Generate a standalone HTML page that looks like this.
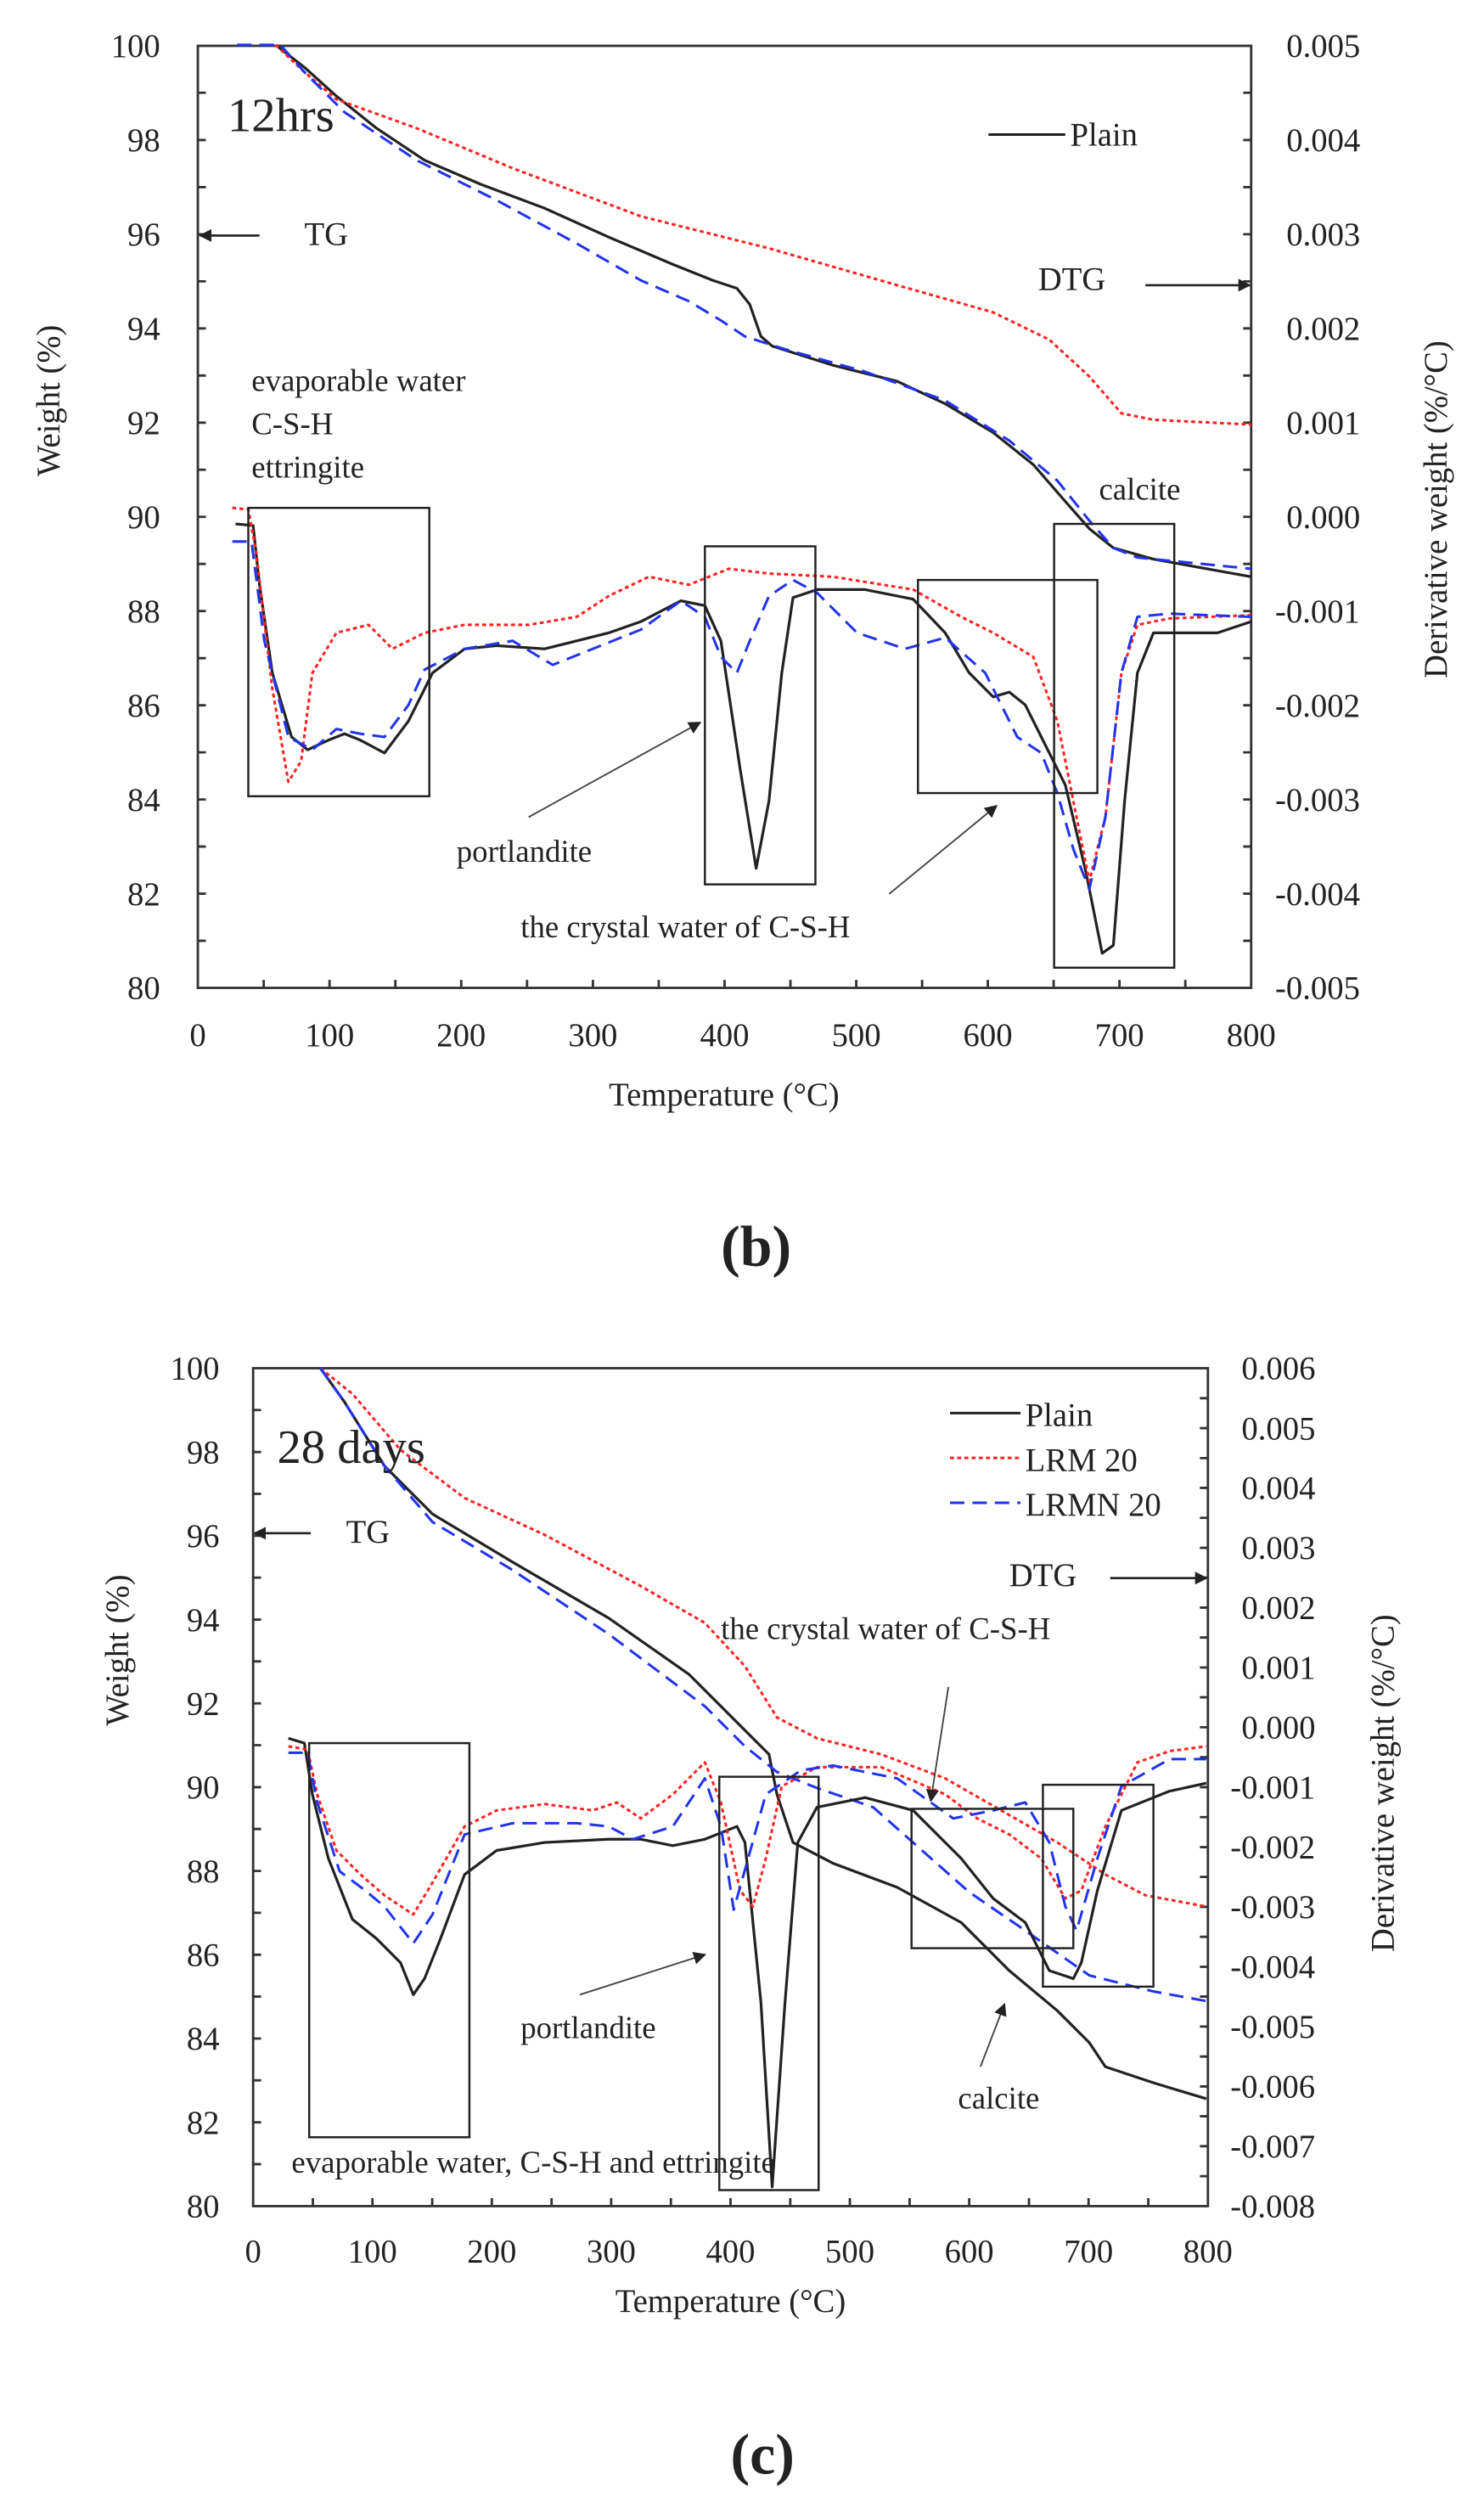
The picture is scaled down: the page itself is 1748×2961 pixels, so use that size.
<!DOCTYPE html>
<html><head><meta charset="utf-8"><style>
html,body{margin:0;padding:0;background:#fff;}
svg{display:block;}
text{font-family:"Liberation Serif",serif;fill:#222;}
.bk{fill:none;stroke:#222;stroke-width:1.7;stroke-linejoin:round;}
.rd{fill:none;stroke:#f22;stroke-width:1.6;stroke-dasharray:2.5,2;stroke-linejoin:round;}
.bl{fill:none;stroke:#2233ee;stroke-width:1.6;stroke-dasharray:9,5;stroke-linejoin:round;}
.ax{fill:none;stroke:#333;stroke-width:1.5;}
.bx{fill:none;stroke:#222;stroke-width:1.3;}
.tk{font-size:20.5px;}
.lab{font-size:19.5px;}
</style></head><body>
<svg width="1748" height="2961" viewBox="0 0 1748 2961" xmlns="http://www.w3.org/2000/svg">
<defs><marker id="ar" markerWidth="8" markerHeight="8" refX="7" refY="4" orient="auto" markerUnits="userSpaceOnUse"><path d="M0,0 L8,4 L0,8 z" fill="#222"/></marker></defs>
<g transform="scale(1.887)">
<!-- ===== Chart b ===== -->
<rect class="ax" x="123.5" y="28.6" width="657.5" height="588"/>
<path class="ax" d="M123.5,57.9h5M123.5,87.4h5M123.5,116.8h5M123.5,146.2h5M123.5,175.6h5M123.5,205h5M123.5,234.4h5M123.5,263.8h5M123.5,293.2h5M123.5,322.6h5M123.5,352h5M123.5,381.4h5M123.5,410.8h5M123.5,440.2h5M123.5,469.6h5M123.5,499h5M123.5,528.4h5M123.5,557.8h5M123.5,587.2h5
M781,57.9h-5M781,87.4h-5M781,116.8h-5M781,146.2h-5M781,175.6h-5M781,205h-5M781,234.4h-5M781,263.8h-5M781,293.2h-5M781,322.6h-5M781,352h-5M781,381.4h-5M781,410.8h-5M781,440.2h-5M781,469.6h-5M781,499h-5M781,528.4h-5M781,557.8h-5M781,587.2h-5
M164.6,616.6v-5M205.7,616.6v-5M246.8,616.6v-5M287.9,616.6v-5M329,616.6v-5M370.1,616.6v-5M411.2,616.6v-5M452.3,616.6v-5M493.4,616.6v-5M534.5,616.6v-5M575.6,616.6v-5M616.6,616.6v-5M657.7,616.6v-5M698.8,616.6v-5M739.9,616.6v-5"/>
<g class="tk" text-anchor="end">
<text x="100" y="35.6">100</text><text x="100" y="94.4">98</text><text x="100" y="153.2">96</text><text x="100" y="212">94</text><text x="100" y="270.8">92</text><text x="100" y="329.6">90</text><text x="100" y="388.4">88</text><text x="100" y="447.2">86</text><text x="100" y="506">84</text><text x="100" y="564.8">82</text><text x="100" y="623.6">80</text>
</g>
<g class="tk" text-anchor="start">
<text x="803" y="35.6">0.005</text><text x="803" y="94.4">0.004</text><text x="803" y="153.2">0.003</text><text x="803" y="212">0.002</text><text x="803" y="270.8">0.001</text><text x="803" y="329.6">0.000</text><text x="796" y="388.4">-0.001</text><text x="796" y="447.2">-0.002</text><text x="796" y="506">-0.003</text><text x="796" y="564.8">-0.004</text><text x="796" y="623.6">-0.005</text>
</g>
<g class="tk" text-anchor="middle">
<text x="123.5" y="653">0</text><text x="205.7" y="653">100</text><text x="287.9" y="653">200</text><text x="370.1" y="653">300</text><text x="452.3" y="653">400</text><text x="534.5" y="653">500</text><text x="616.6" y="653">600</text><text x="698.8" y="653">700</text><text x="781" y="653">800</text>
</g>
<text x="452" y="690" text-anchor="middle" style="font-size:20.5px">Temperature (°C)</text>
<text transform="translate(37,250) rotate(-90)" text-anchor="middle" style="font-size:20.5px">Weight (%)</text>
<text transform="translate(903,318) rotate(-90)" text-anchor="middle" style="font-size:20.5px">Derivative weight (%/°C)</text>
<text x="472" y="790" text-anchor="middle" style="font-size:36px;font-weight:bold">(<tspan>b</tspan>)</text>

<polyline class="bk" points="172,28 190,42 210,60 235,80 265,100 300,115 340,130 380,148 420,165 445,175 460,180 468,190 475,210 482,216 520,228 560,238 590,252 620,270 645,290 665,313 680,330 695,342 720,349 781,360"/>
<polyline class="rd" points="172,28 190,45 210,62 260,80 320,105 400,135 480,155 560,178 620,195 655,212 680,235 700,258 720,262 781,265"/>
<polyline class="bl" points="148,28 175,28 190,45 215,70 260,100 310,125 360,152 400,175 430,188 450,200 465,210 490,218 540,232 590,250 630,275 660,300 680,325 695,342 710,348 781,355"/>
<polyline class="bk" points="147,327 158,328 162,365 170,420 182,460 192,468 205,462 215,458 225,462 240,470 255,450 270,420 290,405 310,403 340,405 360,400 380,395 400,388 425,375 440,378 450,400 462,480 472,542 480,500 488,420 495,373 510,368 540,368 570,374 590,395 605,420 620,435 630,432 640,440 650,460 665,490 678,545 688,595 695,590 702,500 710,420 720,395 740,395 760,395 781,388"/>
<polyline class="rd" points="145,317 155,318 160,345 170,430 180,488 188,475 195,420 210,395 230,390 245,405 265,395 290,390 330,390 360,385 380,372 405,360 430,365 455,355 480,358 520,360 570,368 600,385 620,395 645,410 660,450 670,500 680,550 690,510 700,420 710,390 730,386 781,384"/>
<polyline class="bl" points="145,338 157,338 165,400 180,460 195,468 210,455 225,458 240,460 255,440 265,418 290,405 320,400 345,415 370,405 400,393 425,375 440,385 450,410 460,420 468,400 480,372 495,362 510,370 535,395 565,405 590,398 615,420 635,460 650,470 660,495 670,530 680,555 690,510 700,420 710,385 730,383 781,385"/>
<rect class="bx" x="155" y="317" width="113" height="180"/>
<rect class="bx" x="440" y="341" width="69" height="211"/>
<rect class="bx" x="573" y="362" width="112" height="133"/>
<rect class="bx" x="658" y="327" width="75" height="277"/>

<text x="142" y="82" style="font-size:30px">12hrs</text>
<line x1="617" y1="84" x2="665" y2="84" stroke="#222" stroke-width="1.6"/>
<text x="668" y="91" style="font-size:20.5px">Plain</text>
<line x1="162" y1="147" x2="125" y2="147" stroke="#222" stroke-width="1.4" marker-end="url(#ar)"/>
<text x="190" y="153" style="font-size:20.5px">TG</text>
<text x="648" y="181" style="font-size:20.5px">DTG</text>
<line x1="715" y1="178" x2="780" y2="178" stroke="#222" stroke-width="1.4" marker-end="url(#ar)"/>
<text x="157" y="244" class="lab">evaporable water</text>
<text x="157" y="271" class="lab">C-S-H</text>
<text x="157" y="298" class="lab">ettringite</text>
<text x="686" y="312" class="lab">calcite</text>
<text x="285" y="538" class="lab">portlandite</text>
<line x1="330" y1="510" x2="437" y2="451" stroke="#444" stroke-width="1" marker-end="url(#ar)"/>
<text x="325" y="585" class="lab">the crystal water of C-S-H</text>
<line x1="555" y1="558" x2="622" y2="503" stroke="#444" stroke-width="1" marker-end="url(#ar)"/>

<!-- ===== Chart c ===== -->
<rect class="ax" x="158" y="854" width="596" height="523"/>
<path class="ax" d="M158,880.1h5M158,906.3h5M158,932.4h5M158,958.6h5M158,984.7h5M158,1010.9h5M158,1037h5M158,1063.2h5M158,1089.3h5M158,1115.5h5M158,1141.6h5M158,1167.8h5M158,1193.9h5M158,1220.1h5M158,1246.2h5M158,1272.4h5M158,1298.5h5M158,1324.7h5M158,1350.8h5
M754,872.7h-5M754,891.4h-5M754,910.1h-5M754,928.7h-5M754,947.4h-5M754,966.1h-5M754,984.7h-5M754,1003.4h-5M754,1022.1h-5M754,1040.8h-5M754,1059.4h-5M754,1078.1h-5M754,1096.8h-5M754,1115.5h-5M754,1134.2h-5M754,1152.9h-5M754,1171.5h-5M754,1190.2h-5M754,1208.9h-5M754,1227.6h-5M754,1246.2h-5M754,1264.9h-5M754,1283.6h-5M754,1302.3h-5M754,1320.9h-5M754,1339.6h-5M754,1358.3h-5
M195.3,1377v-5M232.5,1377v-5M269.8,1377v-5M307,1377v-5M344.3,1377v-5M381.5,1377v-5M418.8,1377v-5M456,1377v-5M493.3,1377v-5M530.5,1377v-5M567.8,1377v-5M605,1377v-5M642.3,1377v-5M679.5,1377v-5M716.8,1377v-5"/>
<g class="tk" text-anchor="end">
<text x="137" y="861">100</text><text x="137" y="913.3">98</text><text x="137" y="965.6">96</text><text x="137" y="1017.9">94</text><text x="137" y="1070.2">92</text><text x="137" y="1122.5">90</text><text x="137" y="1174.8">88</text><text x="137" y="1227.1">86</text><text x="137" y="1279.4">84</text><text x="137" y="1331.7">82</text><text x="137" y="1384">80</text>
</g>
<g class="tk" text-anchor="start">
<text x="775" y="861">0.006</text><text x="775" y="898.4">0.005</text><text x="775" y="935.7">0.004</text><text x="775" y="973.1">0.003</text><text x="775" y="1010.4">0.002</text><text x="775" y="1047.8">0.001</text><text x="775" y="1085.1">0.000</text><text x="768" y="1122.5">-0.001</text><text x="768" y="1159.9">-0.002</text><text x="768" y="1197.2">-0.003</text><text x="768" y="1234.6">-0.004</text><text x="768" y="1271.9">-0.005</text><text x="768" y="1309.3">-0.006</text><text x="768" y="1346.6">-0.007</text><text x="768" y="1384">-0.008</text>
</g>
<g class="tk" text-anchor="middle">
<text x="158" y="1412">0</text><text x="232.5" y="1412">100</text><text x="307" y="1412">200</text><text x="381.5" y="1412">300</text><text x="456" y="1412">400</text><text x="530.5" y="1412">500</text><text x="605" y="1412">600</text><text x="679.5" y="1412">700</text><text x="754" y="1412">800</text>
</g>
<text x="456" y="1443" text-anchor="middle" style="font-size:20.5px">Temperature (°C)</text>
<text transform="translate(80,1030) rotate(-90)" text-anchor="middle" style="font-size:20.5px">Weight (%)</text>
<text transform="translate(870,1113) rotate(-90)" text-anchor="middle" style="font-size:20.5px">Derivative weight (%/°C)</text>
<text x="476" y="1544" text-anchor="middle" style="font-size:36px;font-weight:bold">(c)</text>

<polyline class="bk" points="200,854 215,875 240,915 270,945 320,975 380,1010 430,1045 470,1085 480,1095 485,1120 495,1150 520,1163 560,1178 600,1200 630,1230 660,1255 680,1275 690,1290 720,1300 753,1310"/>
<polyline class="rd" points="200,854 220,870 250,905 290,935 340,958 400,990 440,1013 465,1040 485,1072 510,1085 550,1095 590,1110 625,1130 660,1150 690,1170 715,1183 753,1190"/>
<polyline class="bl" points="200,854 215,875 240,915 270,950 320,980 380,1020 440,1065 465,1090 485,1106 510,1116 545,1128 605,1181 640,1205 680,1233 720,1243 753,1249"/>
<polyline class="bk" points="180,1085 190,1088 195,1120 205,1160 220,1198 235,1210 250,1225 258,1245 265,1235 275,1210 290,1170 310,1155 340,1150 380,1148 400,1148 420,1152 440,1148 460,1140 465,1150 475,1250 482,1365 490,1250 498,1150 510,1128 540,1122 570,1130 600,1160 620,1185 640,1200 655,1230 670,1235 675,1225 685,1180 700,1130 730,1118 753,1113"/>
<polyline class="rd" points="180,1090 192,1092 198,1120 210,1155 225,1170 240,1183 258,1195 270,1175 290,1140 310,1130 340,1126 370,1130 385,1125 400,1135 420,1120 440,1100 450,1125 462,1180 470,1190 478,1160 488,1115 510,1103 550,1103 590,1120 610,1135 630,1145 650,1160 665,1185 675,1180 690,1140 710,1100 730,1093 753,1090"/>
<polyline class="bl" points="180,1094 192,1094 198,1125 212,1168 228,1180 240,1190 258,1213 270,1195 290,1145 320,1138 360,1138 380,1140 395,1148 420,1140 440,1110 450,1140 458,1192 467,1160 478,1120 500,1105 520,1102 560,1110 595,1135 620,1130 640,1125 655,1150 665,1190 672,1205 685,1160 700,1115 730,1098 753,1098"/>
<rect class="bx" x="193" y="1088" width="100" height="246"/>
<rect class="bx" x="449" y="1109" width="62" height="258"/>
<rect class="bx" x="569" y="1129" width="101" height="87"/>
<rect class="bx" x="651" y="1114" width="69" height="126"/>

<text x="173" y="913" style="font-size:30px">28 days</text>
<line x1="593" y1="882" x2="637" y2="882" stroke="#222" stroke-width="1.6"/>
<line x1="593" y1="910" x2="637" y2="910" stroke="#f22" stroke-width="1.6" stroke-dasharray="2.5,2"/>
<line x1="593" y1="938" x2="637" y2="938" stroke="#2233ee" stroke-width="1.6" stroke-dasharray="9,5"/>
<text x="640" y="890" style="font-size:20.5px">Plain</text>
<text x="640" y="918" style="font-size:20.5px">LRM 20</text>
<text x="640" y="946" style="font-size:20.5px">LRMN 20</text>
<line x1="194" y1="957" x2="159" y2="957" stroke="#222" stroke-width="1.4" marker-end="url(#ar)"/>
<text x="216" y="963" style="font-size:20.5px">TG</text>
<text x="630" y="990" style="font-size:20.5px">DTG</text>
<line x1="693" y1="985" x2="753" y2="985" stroke="#222" stroke-width="1.4" marker-end="url(#ar)"/>
<text x="450" y="1023" class="lab">the crystal water of C-S-H</text>
<line x1="592" y1="1053" x2="581" y2="1124" stroke="#444" stroke-width="1" marker-end="url(#ar)"/>
<text x="325" y="1272" class="lab">portlandite</text>
<line x1="362" y1="1245" x2="440" y2="1220" stroke="#444" stroke-width="1" marker-end="url(#ar)"/>
<text x="598" y="1316" class="lab">calcite</text>
<line x1="612" y1="1290" x2="627" y2="1251" stroke="#444" stroke-width="1" marker-end="url(#ar)"/>
<text x="182" y="1356" class="lab">evaporable water, C-S-H and ettringite</text>
</g>
</svg>
</body></html>
